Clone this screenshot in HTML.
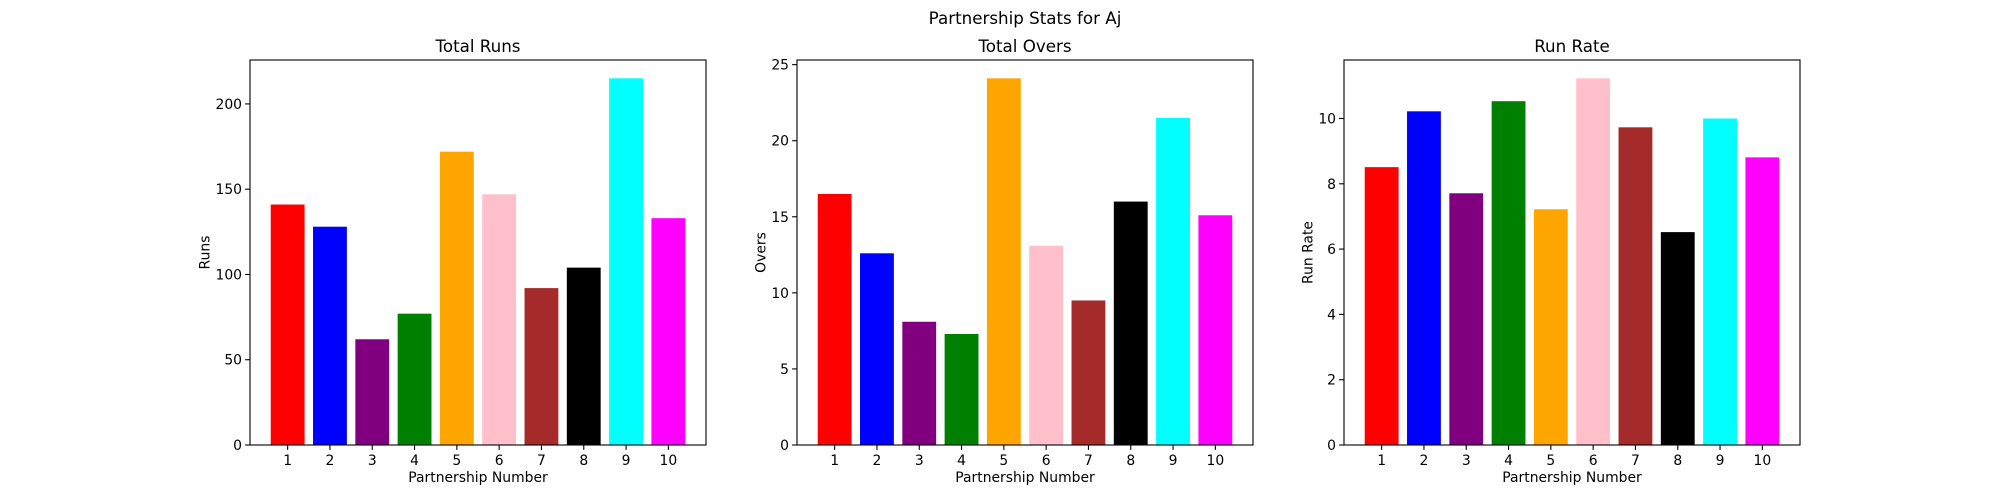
<!DOCTYPE html>
<html><head><meta charset="utf-8"><style>
html,body{margin:0;padding:0;background:#fff;}
svg{display:block;font-family:"DejaVu Sans","Liberation Sans",sans-serif;}
</style></head><body>
<svg id="fig" width="2000" height="500" viewBox="0 0 2000 500">
<rect width="2000" height="500" fill="#fff"/>
<text x="1025" y="24" font-size="16.7" text-anchor="middle">Partnership Stats for Aj</text>
</svg>
<script>
const categories = [1,2,3,4,5,6,7,8,9,10];
const colors = ["red","blue","purple","green","orange","pink","brown","black","cyan","magenta"];
const runsValues = [141,128,62,77,172,147,92,104,215,133];
const oversValues = [16.5,12.6,8.1,7.3,24.1,13.1,9.5,16.0,21.5,15.1];
const runRateValues = [8.51,10.22,7.71,10.53,7.22,11.23,9.73,6.52,10.0,8.81];
const runsTicks = [0,50,100,150,200];
const oversTicks = [0,5,10,15,20,25];
const runRateTicks = [0,2,4,6,8,10];

const svg = document.getElementById('fig');
const NS = 'http://www.w3.org/2000/svg';
function mk(tag, attrs, parent){const e=document.createElementNS(NS,tag);for(const k in attrs)e.setAttribute(k,attrs[k]);(parent||svg).appendChild(e);return e;}

const panels = [
 {left:250, title:'Total Runs', ylabel:'Runs', vals:runsValues, ticks:runsTicks, key:'runs'},
 {left:797, title:'Total Overs', ylabel:'Overs', vals:oversValues, ticks:oversTicks, key:'overs'},
 {left:1344, title:'Run Rate', ylabel:'Run Rate', vals:runRateValues, ticks:runRateTicks, key:'run-rate'}
];
const W=456, axTop=60, axBottom=445;
panels.forEach(p=>{
  const g = mk('g',{});
  
  
  const ymax = Math.max(...p.vals)*1.05;
  const n = categories.length;
  const xmin = categories[0]-0.4-0.05*(n-1+0.8), xmax = categories[n-1]+0.4+0.05*(n-1+0.8);
  const xs = v => p.left + (v-xmin)/(xmax-xmin)*W;
  const ys = v => axBottom - v/ymax*(axBottom-axTop);
  p.vals.forEach((v,i)=>{
    const r = mk('rect',{x:xs(categories[i]-0.4), y:ys(v), width:xs(categories[i]+0.4)-xs(categories[i]-0.4), height:axBottom-ys(v), fill:colors[i]}, g);
    
    
  });
  const fr = mk('rect',{x:p.left, y:axTop, width:W, height:axBottom-axTop, fill:'none', stroke:'#000', 'stroke-width':1.1}, g);
  
  
  categories.forEach(c=>{
    mk('line',{x1:xs(c),x2:xs(c),y1:axBottom,y2:axBottom+4.9,stroke:'#000','stroke-width':1.1},g);
    const t = mk('text',{x:xs(c), y:axBottom+20, 'font-size':13.9, 'text-anchor':'middle'}, g);
    t.textContent = c;
    
    
  });
  p.ticks.forEach(tv=>{
    if (tv>ymax) return;
    mk('line',{x1:p.left-4.9,x2:p.left,y1:ys(tv),y2:ys(tv),stroke:'#000','stroke-width':1.1},g);
    const t = mk('text',{x:p.left-8, y:ys(tv)+5, 'font-size':13.9, 'text-anchor':'end'}, g);
    t.textContent = tv;
    
    
  });
  const tt = mk('text',{x:p.left+W/2, y:axTop-8, 'font-size':16.7, 'text-anchor':'middle'}, g);
  tt.textContent = p.title;
  
  
  const xl = mk('text',{x:p.left+W/2, y:axBottom+37, 'font-size':13.9, 'text-anchor':'middle'}, g);
  xl.textContent = 'Partnership Number';
  
  
  const maxw = Math.max(...p.ticks.filter(t=>t<=ymax).map(t=>String(t).length));
  const lx = p.left - 14 - maxw*8.8;
  const yl = mk('text',{x:lx, y:(axTop+axBottom)/2, 'font-size':13.9, 'text-anchor':'middle', transform:`rotate(-90 ${lx} ${(axTop+axBottom)/2})`}, g);
  yl.textContent = p.ylabel;
  
  
});
</script>
</body></html>
